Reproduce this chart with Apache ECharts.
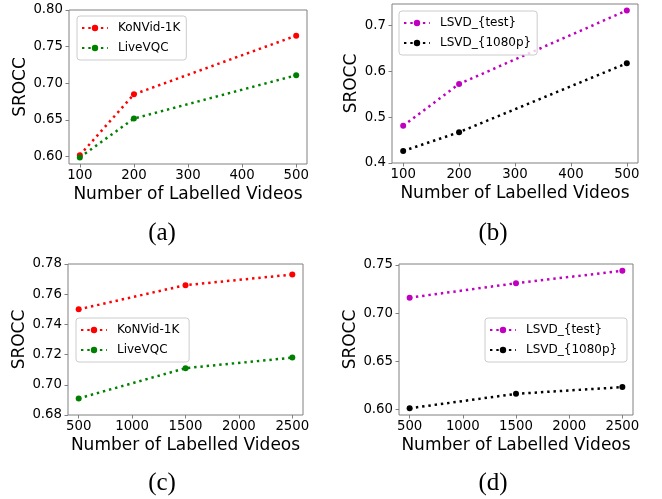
<!DOCTYPE html>
<html><head><meta charset="utf-8">
<script src="https://cdn.jsdelivr.net/npm/echarts@6/dist/echarts.min.js"></script>
<style>html,body{margin:0;padding:0;background:#fff}#c{width:662px;height:499px}</style>
</head><body><div id="c"></div>
<script>
// ---- data ----
const xSmall = [100, 200, 500];
const xLarge = [500, 1500, 2500];
const konvidA = [0.602, 0.685, 0.765];
const livevqcA = [0.599, 0.652, 0.711];
const lsvdTestB = [0.481, 0.572, 0.732];
const lsvd1080B = [0.426, 0.467, 0.617];
const konvidC = [0.750, 0.766, 0.773];
const livevqcC = [0.691, 0.711, 0.718];
const lsvdTestD = [0.716, 0.731, 0.744];
const lsvd1080D = [0.601, 0.616, 0.623];
const xTicksSmall = [100, 200, 300, 400, 500];
const xTicksLarge = [500, 1000, 1500, 2000, 2500];
const yTicksA = [0.60, 0.65, 0.70, 0.75, 0.80];
const yTicksB = [0.4, 0.5, 0.6, 0.7];
const yTicksC = [0.68, 0.70, 0.72, 0.74, 0.76, 0.78];
const yTicksD = [0.60, 0.65, 0.70, 0.75];
const captions = ['(a)', '(b)', '(c)', '(d)'];

const FONT = 'DejaVu Sans';
const FRAME = '#808080';
const grids = [
  {left: 69, top: 10, width: 238, height: 154},
  {left: 392, top: 4, width: 246, height: 159},
  {left: 68, top: 264, width: 235, height: 151},
  {left: 399, top: 264, width: 234, height: 151}
];
function xAxis(i, min, max, ticks) {
  return {
    type: 'value', gridIndex: i, min: min, max: max,
    name: 'Number of Labelled Videos', nameLocation: 'middle', nameGap: 22,
    nameTextStyle: {fontFamily: FONT, fontSize: 17, color: '#000'},
    axisLine: {show: false},
    axisTick: {show: true, length: 3.5, customValues: ticks, lineStyle: {color: FRAME}},
    axisLabel: {customValues: ticks, fontFamily: FONT, fontSize: 13.3, color: '#000', margin: 5,
      formatter: v => String(v)},
    splitLine: {show: false}
  };
}
function yAxis(i, min, max, ticks, dec, gap) {
  return {
    type: 'value', gridIndex: i, min: min, max: max,
    name: 'SROCC', nameLocation: 'middle', nameRotate: 90, nameGap: gap,
    nameTextStyle: {fontFamily: FONT, fontSize: 17, color: '#000'},
    axisLine: {show: false},
    axisTick: {show: true, length: 3.5, customValues: ticks, lineStyle: {color: FRAME}},
    axisLabel: {customValues: ticks, fontFamily: FONT, fontSize: 13.3, color: '#000', margin: 6,
      formatter: v => v.toFixed(dec)},
    splitLine: {show: false}
  };
}
function pairs(xs, ys) { return xs.map((x, k) => [x, ys[k]]); }
function line(name, i, xs, ys, color) {
  return {
    name: name, type: 'line', xAxisIndex: i, yAxisIndex: i,
    data: pairs(xs, ys), symbol: 'circle', symbolSize: 6, showSymbol: true,
    itemStyle: {color: color},
    lineStyle: {color: color, width: 2.5, type: [2.4, 3.9], cap: 'butt'},
    animation: false
  };
}
function legend(i, names, left, top) {
  return {
    data: names, orient: 'vertical', left: left, top: top,
    itemWidth: 26, itemHeight: 8, itemGap: 8,
    padding: [6, 6, 6, 4],
    borderColor: '#cccccc', borderWidth: 1, borderRadius: 3, backgroundColor: 'rgba(255,255,255,0.8)',
    textStyle: {fontFamily: FONT, fontSize: 12, color: '#000', padding: [0, 0, 0, 5]},
    selectedMode: false
  };
}
const capPos = [[162, 233], [493, 233], [162, 483], [493, 483]];
const chart = echarts.init(document.getElementById('c'), null, {renderer: 'canvas'});
chart.setOption({
  animation: false,
  backgroundColor: '#fff',
  grid: grids.map(g => Object.assign({show: true, borderColor: FRAME, borderWidth: 1, backgroundColor: 'transparent'}, g)),
  xAxis: [
    xAxis(0, 80, 520, xTicksSmall),
    xAxis(1, 80, 520, xTicksSmall),
    xAxis(2, 400, 2600, xTicksLarge),
    xAxis(3, 400, 2600, xTicksLarge)
  ],
  yAxis: [
    yAxis(0, 0.59, 0.80, yTicksA, 2, 39.5),
    yAxis(1, 0.40, 0.746, yTicksB, 1, 32),
    yAxis(2, 0.68, 0.78, yTicksC, 2, 38.5),
    yAxis(3, 0.594, 0.751, yTicksD, 2, 38)
  ],
  legend: [
    legend(0, ['KoNVid-1K', 'LiveVQC'], 77, 16),
    legend(1, ['LSVD_{test}', 'LSVD_{1080p}'], 399, 11),
    legend(2, ['KoNVid-1K ', 'LiveVQC '], 76, 318),
    legend(3, ['LSVD_{test} ', 'LSVD_{1080p} '], 485, 318)
  ],
  series: [
    line('KoNVid-1K', 0, xSmall, konvidA, '#ff0000'),
    line('LiveVQC', 0, xSmall, livevqcA, '#008000'),
    line('LSVD_{test}', 1, xSmall, lsvdTestB, '#bf00bf'),
    line('LSVD_{1080p}', 1, xSmall, lsvd1080B, '#000000'),
    line('KoNVid-1K ', 2, xLarge, konvidC, '#ff0000'),
    line('LiveVQC ', 2, xLarge, livevqcC, '#008000'),
    line('LSVD_{test} ', 3, xLarge, lsvdTestD, '#bf00bf'),
    line('LSVD_{1080p} ', 3, xLarge, lsvd1080D, '#000000')
  ],
  graphic: captions.map((t, k) => ({
    type: 'text', x: capPos[k][0], y: capPos[k][1],
    style: {text: t, fontFamily: 'Liberation Serif', fontSize: 25, fill: '#000', align: 'center', verticalAlign: 'middle'}
  }))
});
</script></body></html>
